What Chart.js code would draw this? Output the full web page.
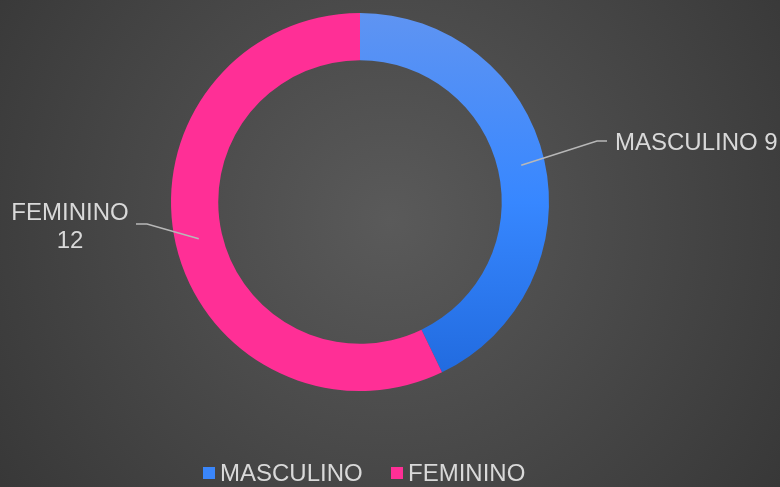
<!DOCTYPE html>
<html>
<head>
<meta charset="utf-8">
<script src="https://cdn.jsdelivr.net/npm/chart.js@4"></script>
<style>
    html, body { margin: 0; padding: 0; background: #3a3a3a; }
    #wrap { width: 780px; height: 487px; }
</style>
</head>
<body>
<div id="wrap"><canvas id="donut" width="780" height="487"></canvas></div>
<script>
// Chart data
const categories = ['MASCULINO', 'FEMININO'];
const values = [9, 12];
const sliceColors = ['#3a86fa', '#ff2f96'];
const labelTexts = [['MASCULINO 9'], ['FEMININO', '12']];

const FONT = '24px "Liberation Sans", Arial, sans-serif';

// Background radial gradient
const backgroundPlugin = {
    id: 'bg',
    beforeDraw(chart) {
        const ctx = chart.ctx;
        const w = chart.width, h = chart.height;
        const g = ctx.createRadialGradient(390, 220, 0, 390, 220, 470);
        g.addColorStop(0, '#5a5a5a');
        g.addColorStop(1, '#383838');
        ctx.save();
        ctx.fillStyle = g;
        ctx.fillRect(0, 0, w, h);
        ctx.restore();
    }
};

// Data labels with leader lines
const labelPlugin = {
    id: 'sliceLabels',
    afterDatasetsDraw(chart) {
        const ctx = chart.ctx;
        const meta = chart.getDatasetMeta(0);
        ctx.save();
        ctx.font = FONT;
        ctx.fillStyle = '#d9d9d9';
        ctx.strokeStyle = '#b8b8b8';
        ctx.lineWidth = 1.5;
        ctx.textBaseline = 'alphabetic';
        meta.data.forEach((arc, i) => {
            const mid = (arc.startAngle + arc.endAngle) / 2;
            const r = (arc.innerRadius + arc.outerRadius) / 2;
            const sx = arc.x + Math.cos(mid) * r;
            const sy = arc.y + Math.sin(mid) * r;
            const right = Math.cos(mid) > 0;
            let ex, ey, hx;
            if (right) {
                ex = 597; ey = 141; hx = 607;
            } else {
                ex = 147; ey = 224; hx = 136;
            }
            ctx.beginPath();
            ctx.moveTo(sx, sy);
            ctx.lineTo(ex, ey);
            ctx.lineTo(hx, ey);
            ctx.stroke();
            if (right) {
                ctx.textAlign = 'left';
                ctx.fillText(labelTexts[i][0], 615, 150);
            } else {
                ctx.textAlign = 'center';
                ctx.fillText(labelTexts[i][0], 70, 220);
                ctx.fillText(labelTexts[i][1], 70, 248);
            }
        });
        ctx.restore();
    }
};

// Bottom legend
const legendPlugin = {
    id: 'bottomLegend',
    afterDraw(chart) {
        const ctx = chart.ctx;
        const items = [
            { x: 203, color: sliceColors[0] },
            { x: 391, color: sliceColors[1] }
        ];
        ctx.save();
        ctx.font = FONT;
        ctx.textBaseline = 'alphabetic';
        ctx.textAlign = 'left';
        items.forEach((it, i) => {
            ctx.fillStyle = it.color;
            ctx.fillRect(it.x, 467, 12, 12);
            ctx.fillStyle = '#d9d9d9';
            ctx.fillText(categories[i], it.x + 17, 481);
        });
        ctx.restore();
    }
};

const ctx = document.getElementById('donut').getContext('2d');

// Blue slice uses a vertical gradient, like the original
const blueGrad = ctx.createLinearGradient(0, 12, 0, 392);
blueGrad.addColorStop(0, '#5f94f2');
blueGrad.addColorStop(0.5, '#3787ff');
blueGrad.addColorStop(1, '#1f68dc');

const chart = new Chart(ctx, {
    type: 'doughnut',
    data: {
        labels: categories,
        datasets: [{
            data: values,
            backgroundColor: [blueGrad, sliceColors[1]],
            borderWidth: 0
        }]
    },
    options: {
        responsive: false,
        animation: false,
        cutout: '75%',
        layout: {
            padding: { left: 171, right: 231, top: 13, bottom: 96 }
        },
        plugins: {
            legend: { display: false },
            tooltip: { enabled: false }
        }
    },
    plugins: [backgroundPlugin, labelPlugin, legendPlugin]
});
</script>
</body>
</html>
